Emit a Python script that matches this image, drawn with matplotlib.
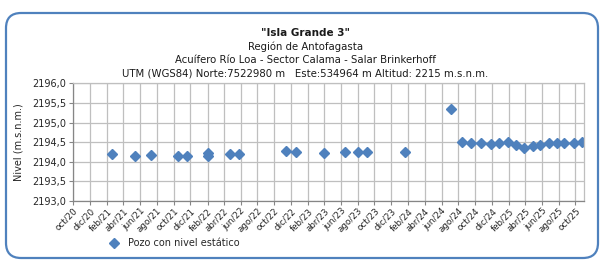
import numpy as np
import pandas as pd
import matplotlib
matplotlib.use("Agg")
import matplotlib.pyplot as plt
import matplotlib.dates as mdates
from matplotlib.patches import FancyBboxPatch
from matplotlib.ticker import FuncFormatter, MultipleLocator

# Datos
fechas = ["2021-02-19", "2021-05-13", "2021-07-10", "2021-10-17", "2021-11-19",
          "2022-02-03", "2022-02-03", "2022-04-24", "2022-05-26", "2022-11-12",
          "2022-12-21", "2023-04-01", "2023-06-16", "2023-08-01", "2023-09-03",
          "2024-01-20", "2024-07-04", "2024-08-15", "2024-09-16", "2024-10-22",
          "2024-11-27", "2024-12-28", "2025-01-29", "2025-02-26", "2025-03-26",
          "2025-04-28", "2025-05-25", "2025-06-26", "2025-07-25", "2025-08-21",
          "2025-09-26", "2025-10-25"]
nivel = [2194.20, 2194.14, 2194.16, 2194.15, 2194.15,
         2194.23, 2194.14, 2194.20, 2194.20, 2194.27,
         2194.26, 2194.23, 2194.24, 2194.24, 2194.24,
         2194.24, 2195.35, 2194.50, 2194.49, 2194.49,
         2194.46, 2194.49, 2194.50, 2194.43, 2194.36,
         2194.41, 2194.44, 2194.47, 2194.47, 2194.49,
         2194.49, 2194.50]

meses = ["ene", "feb", "mar", "abr", "may", "jun", "jul", "ago", "sep", "oct", "nov", "dic"]
titulo = '"Isla Grande 3"'
subtitulos = ["Región de Antofagasta",
              "Acuífero Río Loa - Sector Calama - Salar Brinkerhoff",
              "UTM (WGS84) Norte:7522980 m   Este:534964 m Altitud: 2215 m.s.n.m."]

azul = "#4F81BD"
gris_txt = "#262626"

fig = plt.figure(figsize=(6.05, 2.66), dpi=100)

# marco redondeado
marco = FancyBboxPatch((6 / 605, 1 - 258 / 266), 592 / 605, 245 / 266,
                       boxstyle="round,pad=0,rounding_size=0.025",
                       transform=fig.transFigure, fill=False,
                       edgecolor=azul, linewidth=1.6, mutation_aspect=605 / 266)
fig.patches.append(marco)

ax = fig.add_axes([73.3 / 605, 1 - 201 / 266, (584.3 - 73.3) / 605, (201 - 83.3) / 266])

x = pd.to_datetime(fechas)
ax.plot(x, nivel, linestyle="none", marker="D", markersize=5,
        color=azul, markeredgecolor=azul)

ax.set_xlim(pd.Timestamp("2020-10-01"), pd.Timestamp("2025-11-02"))
ax.set_ylim(2193.0, 2196.0)

ax.xaxis.set_major_locator(mdates.MonthLocator(bymonth=[2, 4, 6, 8, 10, 12]))
ax.xaxis.set_major_formatter(FuncFormatter(
    lambda v, p: "%s/%02d" % (meses[mdates.num2date(v).month - 1], mdates.num2date(v).year % 100)))
ax.yaxis.set_major_locator(MultipleLocator(0.5))
ax.yaxis.set_major_formatter(FuncFormatter(lambda v, p: ("%.1f" % v).replace(".", ",")))

ax.grid(True, color="#BFBFBF", linewidth=0.9)
ax.set_axisbelow(True)
for s in ax.spines.values():
    s.set_color("#BFBFBF")
    s.set_linewidth(0.9)
ax.spines["left"].set_color("#868686")
ax.spines["bottom"].set_color("#868686")

ax.tick_params(axis="both", colors="#868686", length=3, width=0.8, labelcolor=gris_txt)
ax.tick_params(axis="y", labelsize=7, pad=2)
ax.tick_params(axis="x", labelsize=6.3, pad=1)
for lab in ax.get_xticklabels():
    lab.set_rotation(45)
    lab.set_ha("right")
    lab.set_rotation_mode("anchor")

fig.text(0.03, 1 - 142 / 266, "Nivel (m.s.n.m.)", rotation=90, ha="center", va="center",
         fontsize=7, color=gris_txt)

fig.text(0.505, 1 - 33 / 266, titulo, ha="center", va="center", fontsize=7.5,
         fontweight="bold", color="#1a1a1a")
for i, t in enumerate(subtitulos):
    fig.text(0.505, 1 - (46.5 + 13.7 * i) / 266, t, ha="center", va="center",
             fontsize=7.3, color="#1a1a1a")

# leyenda
fig.lines.append(plt.Line2D([114 / 605], [1 - 243 / 266], transform=fig.transFigure,
                            marker="D", markersize=5, color=azul, linestyle="none"))
fig.text(128 / 605, 1 - 243 / 266, "Pozo con nivel estático", ha="left", va="center",
         fontsize=7, color=gris_txt)

fig.savefig("out.png", dpi=100)
